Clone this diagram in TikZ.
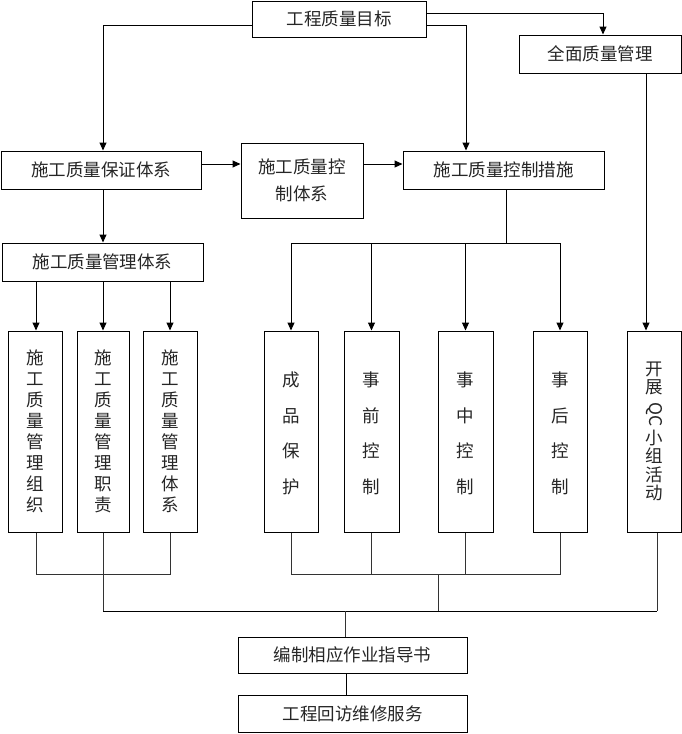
\documentclass[tikz,border=0pt]{standalone}
\usepackage{fontspec}
\setmainfont{Noto Sans CJK SC}
\usetikzlibrary{arrows.meta}
\begin{document}
\begin{tikzpicture}[x=1pt,y=-1pt,
  box/.style={draw, line width=1pt, inner sep=0pt, text=black!85,
    font=\fontsize{17.5}{27}\selectfont, align=center},
  vtext/.style={inner sep=0pt, text=black!85, align=center},
  arr/.style={line width=1pt, -{Triangle[length=8pt,width=7pt]}},
  ln/.style={line width=0.8pt, draw=black!80}]
\useasboundingbox (0,0) rectangle (682,734);
\fill[white] (0,0) rectangle (682,734);
% boxes
\node[box, minimum width=174pt, minimum height=36pt] (goal) at (339,19) {工程质量目标};
\node[box, minimum width=162pt, minimum height=38pt] (tqm) at (600,54) {全面质量管理};
\node[box, minimum width=200pt, minimum height=38pt] (bz) at (101,170) {施工质量保证体系};
\node[box, minimum width=122pt, minimum height=75pt] (kztx) at (302,180.5) {施工质量控\\制体系};
\node[box, minimum width=201pt, minimum height=38pt] (cs) at (503.5,170) {施工质量控制措施};
\node[box, minimum width=201pt, minimum height=38pt] (gltx) at (102.5,262) {施工质量管理体系};
\node[box, minimum width=54pt, minimum height=201pt] (v1) at (35,431.5) {};
\node[box, minimum width=52pt, minimum height=201pt] (v2) at (103,431.5) {};
\node[box, minimum width=54pt, minimum height=201pt] (v3) at (170,431.5) {};
\node[box, minimum width=54pt, minimum height=201pt] (c1) at (291,431.5) {};
\node[box, minimum width=55pt, minimum height=201pt] (c2) at (371.5,431.5) {};
\node[box, minimum width=55pt, minimum height=201pt] (c3) at (465.5,431.5) {};
\node[box, minimum width=54pt, minimum height=201pt] (c4) at (560,431.5) {};
\node[box, minimum width=54pt, minimum height=201pt] (qc) at (654,431.5) {};
\node[box, minimum width=229pt, minimum height=36pt] (bzs) at (352.5,655) {编制相应作业指导书};
\node[box, minimum width=229pt, minimum height=37pt] (hf) at (352.5,713.5) {工程回访维修服务};
% vertical texts
\node[vtext, font=\fontsize{17.5}{21}\selectfont] (tv1) at (v1) {施\\工\\质\\量\\管\\理\\组\\织};
\node[vtext, font=\fontsize{17.5}{21}\selectfont] (tv2) at (v2) {施\\工\\质\\量\\管\\理\\职\\责};
\node[vtext, font=\fontsize{17.5}{21}\selectfont] (tv3) at (v3) {施\\工\\质\\量\\管\\理\\体\\系};
\node[vtext, font=\fontsize{17.5}{35.5}\selectfont] (tc1) at (291,433.5) {成\\品\\保\\护};
\node[vtext, font=\fontsize{17.5}{35.5}\selectfont] (tc2) at (371.5,433.5) {事\\前\\控\\制};
\node[vtext, font=\fontsize{17.5}{35.5}\selectfont] (tc3) at (465.5,433.5) {事\\中\\控\\制};
\node[vtext, font=\fontsize{17.5}{35.5}\selectfont] (tc4) at (560,433.5) {事\\后\\控\\制};
\node[vtext, font=\fontsize{17.5}{17.5}\selectfont] (tq1) at (654,378.5) {开\\展};
\node[vtext, font=\fontsize{17.5}{18}\selectfont, rotate=-90] (tq2) at (654,415) {QC};
\node[vtext, font=\fontsize{17.5}{18.3}\selectfont] (tq3) at (654,465.5) {小\\组\\活\\动};
% top connectors
\draw[arr] ([yshift=-6pt]goal.west) -| ([xshift=2pt]bz.north);
\draw[arr] ([yshift=6pt]goal.east) -| ([xshift=3pt]tqm.north);
\draw[arr] ([yshift=-6pt]goal.east) -| ([xshift=-37.5pt]cs.north);
\draw[arr] (bz.east |- 0,164) -- (kztx.west |- 0,164);
\draw[arr] (kztx.east |- 0,164) -- (cs.west |- 0,164);
\draw[arr] (bz.south -| 103,0) -- (gltx.north -| 103,0);
\draw[arr] (gltx.south -| 36,0) -- (v1.north -| 36,0);
\draw[arr] (gltx.south -| v2) -- (v2.north);
\draw[arr] (gltx.south -| v3) -- (v3.north);
\coordinate (csj) at (506,243);
\draw[line width=0.8pt] (cs.south -| csj) -- (csj);
\draw[line width=1pt] (c1.north |- csj) -- (c4.north |- csj);
\draw[arr] (c1.north |- csj) -- (c1.north);
\draw[arr] (c2.north |- csj) -- (c2.north);
\draw[arr] (c3.north |- csj) -- (c3.north);
\draw[arr] (c4.north |- csj) -- (c4.north);
\draw[arr] (tqm.south -| 646,0) -- (qc.north -| 646,0);
% bottom connectors
\coordinate (lj) at (103,611);
\coordinate (rj) at (657,611);
\draw[ln] (v1.south -| 36,0) -- (36,574) -- (v3.south |- 0,574) -- (v3.south);
\draw[ln] (v2.south) -- (lj);
\draw[ln] (c1.south) -- (c1.south |- 0,574) -- (c4.south |- 0,574) -- (c4.south);
\draw[ln] (c2.south) -- (c2.south |- 0,574);
\draw[ln] (c3.south) -- (c3.south |- 0,574);
\draw[ln] (438,574) -- (438,611);
\draw[ln] (qc.south -| rj) -- (rj);
\draw[line width=1pt] (lj) -- (rj);
\draw[ln] (345,611) -- (bzs.north -| 345,0);
\draw[line width=1pt] (bzs.south -| 346,0) -- (hf.north -| 346,0);
\end{tikzpicture}
\end{document}
